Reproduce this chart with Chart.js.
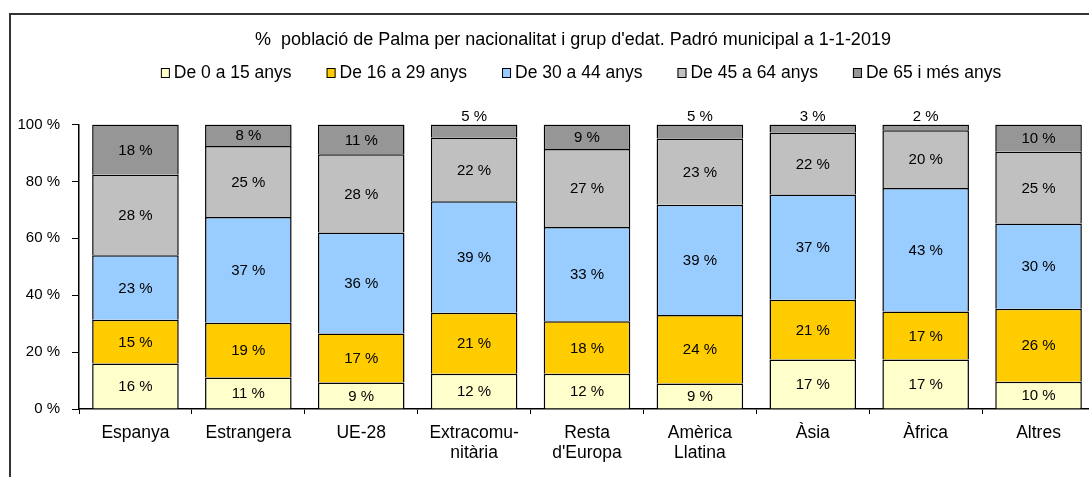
<!DOCTYPE html>
<html>
<head>
<meta charset="utf-8">
<script src="https://cdn.jsdelivr.net/npm/chart.js@4/dist/chart.umd.min.js"></script>
<style>
  html, body { margin: 0; padding: 0; overflow: hidden; background: #fff; }
  #wrap { width: 1146px; height: 477px; }
</style>
</head>
<body>
<div id="wrap"><canvas id="myChart" width="1146" height="477"></canvas></div>
<script>
// categories (multi-line labels as arrays)
const labels = ["Espanya", "Estrangera", "UE-28", ["Extracomu-", "nitària"], ["Resta", "d'Europa"], ["Amèrica", "Llatina"], "Àsia", "Àfrica", "Altres"];

// % per age group
const age0to15 = [16.0, 11.1, 9.3, 12.4, 12.4, 9.0, 17.4, 17.4, 9.6];
const age16to29 = [15.4, 19.2, 17.2, 21.4, 18.4, 24.0, 21.0, 16.9, 25.6];
const age30to44 = [22.6, 37.2, 35.5, 39.2, 33.2, 38.8, 37.0, 43.4, 30.0];
const age45to64 = [28.3, 24.9, 27.5, 22.4, 27.4, 23.3, 21.8, 20.3, 25.2];
const age65plus = [17.7, 7.6, 10.5, 4.6, 8.6, 4.9, 2.8, 2.0, 9.6];

const yTicks = [0, 20, 40, 60, 80, 100];

var colors = {
  yellow: "#FFFFCC",
  orange: "#FFCC00",
  blue: "#99CCFF",
  gray: "#C0C0C0",
  darkgray: "#969696",
};

Chart.defaults.font.family = "'Liberation Sans', Arial, sans-serif";
Chart.defaults.color = "#000";

function ds(label, data, color) {
  return {
    label: label,
    data: data,
    backgroundColor: color,
    borderColor: "#000",
    borderWidth: 1.5,
    borderSkipped: "start",
    barPercentage: 0.767,
    categoryPercentage: 1,
  };
}

const data = {
  labels: labels,
  datasets: [
    ds("De 0 a 15 anys", age0to15, colors.yellow),
    ds("De 16 a 29 anys", age16to29, colors.orange),
    ds("De 30 a 44 anys", age30to44, colors.blue),
    ds("De 45 a 64 anys", age45to64, colors.gray),
    ds("De 65 i més anys", age65plus, colors.darkgray),
  ],
};

// white background + the frame around the chart
const frame = {
  id: "frame",
  beforeDraw: (chart) => {
    const { ctx } = chart;
    ctx.save();
    ctx.fillStyle = "#fff";
    ctx.fillRect(0, 0, chart.width, chart.height);
    ctx.strokeStyle = "#333";
    ctx.lineWidth = 2;
    ctx.strokeRect(10, 14, chart.width + 50, chart.height + 50);
    ctx.restore();
  },
};

// legend row under the title
const legendRow = {
  id: "legendRow",
  afterDraw: (chart) => {
    const { ctx } = chart;
    const items = chart.data.datasets;
    const box = 9, textGap = 4, gap = 35;
    ctx.save();
    ctx.font = "17.5px 'Liberation Sans'";
    ctx.textBaseline = "middle";
    ctx.textAlign = "left";
    let total = 0;
    items.forEach((d) => { total += box + textGap + ctx.measureText(d.label).width; });
    total += gap * (items.length - 1);
    let x = chart.width / 2 + 8 - total / 2;
    const y = 73;
    items.forEach((d) => {
      ctx.fillStyle = d.backgroundColor;
      ctx.fillRect(x, y - 5, box, 10);
      ctx.strokeStyle = "#000";
      ctx.lineWidth = 1;
      ctx.strokeRect(x + 0.5, y - 4.5, box - 1, 9);
      ctx.fillStyle = "#000";
      ctx.fillText(d.label, x + box + textGap, y);
      x += box + textGap + ctx.measureText(d.label).width + gap;
    });
    ctx.restore();
  },
};

// % labels in the segments, small ones above the bar
const valueLabels = {
  id: "valueLabels",
  afterDatasetsDraw: (chart) => {
    const { ctx } = chart;
    ctx.save();
    ctx.font = "15px 'Liberation Sans'";
    ctx.fillStyle = "#000";
    ctx.textAlign = "center";
    ctx.textBaseline = "middle";
    chart.data.datasets.forEach((d, i) => {
      const meta = chart.getDatasetMeta(i);
      meta.data.forEach((bar, j) => {
        const v = d.data[j];
        const txt = Math.round(v) + " %";
        if (v < 6) {
          ctx.fillText(txt, bar.x, bar.y - 8);
        } else {
          ctx.fillText(txt, bar.x, (bar.y + bar.base) / 2 + 1);
        }
      });
    });
    ctx.restore();
  },
};

const config = {
  type: "bar",
  data: data,
  plugins: [frame, valueLabels, legendRow],
  options: {
    responsive: false,
    animation: false,
    layout: { padding: 0 },
    plugins: {
      legend: { display: false },
      tooltip: { enabled: false },
      title: {
        display: true,
        text: "%  població de Palma per nacionalitat i grup d'edat. Padró municipal a 1-1-2019",
        font: { size: 18, weight: "normal", lineHeight: 1.2 },
        color: "#000",
        // bottom padding leaves room for the legend row
        padding: { top: 29, bottom: 124.5 - 29 - 21.6 },
      },
    },
    scales: {
      x: {
        stacked: true,
        grid: { drawOnChartArea: false, drawTicks: true, tickLength: 5, color: "#000", offset: true },
        border: { display: true, color: "#000", width: 1.5 },
        ticks: { font: { size: 17.5, lineHeight: 1.15 }, color: "#000", padding: 9, maxRotation: 0, autoSkip: false },
        afterFit: (scale) => {
          scale.height = 68;
          scale.paddingRight = 1146 - 1095;
        },
      },
      y: {
        stacked: true,
        min: 0,
        max: 100,
        afterBuildTicks: (scale) => {
          scale.ticks = yTicks.map((v) => ({ value: v }));
        },
        grid: { drawOnChartArea: false, drawTicks: true, tickLength: 7, color: "#000" },
        border: { display: true, color: "#000", width: 1.5 },
        ticks: {
          font: { size: 15 },
          color: "#000",
          padding: 12,
          callback: (v) => v + " %",
        },
        afterFit: (scale) => {
          scale.width = 79;
        },
      },
    },
  },
};

var myChart = new Chart(document.getElementById("myChart"), config);
</script>
</body>
</html>
